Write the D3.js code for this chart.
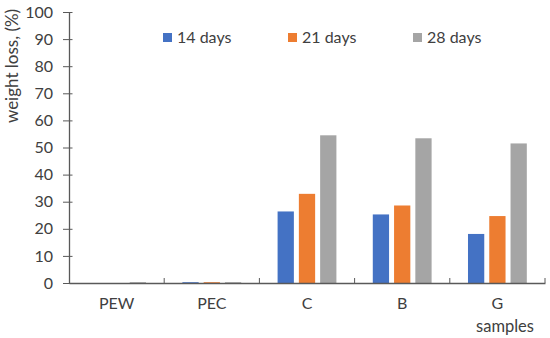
<!DOCTYPE html>
<html>
<head>
<meta charset="utf-8">
<script src="https://cdn.jsdelivr.net/npm/d3@7"></script>
<style>
  body { margin: 0; background: #fff; }
  text { font-family: Lato, "Open Sans", sans-serif; fill: #404040; }
</style>
</head>
<body>
<div id="chart"></div>
<script>
// data
var samples = ["PEW", "PEC", "C", "B", "G"];
var seriesNames = ["14 days", "21 days", "28 days"];
var days14 = [0, 0.3, 26.4, 25.3, 18.1];
var days21 = [0, 0.3, 32.9, 28.6, 24.7];
var days28 = [0.3, 0.3, 54.5, 53.4, 51.5];
var colors = ["#4472C4", "#ED7D31", "#A5A5A5"];
var yTicks = [0, 10, 20, 30, 40, 50, 60, 70, 80, 90, 100];

var width = 550, height = 338;
var margin = { top: 12, right: 5, bottom: 55, left: 69 };
var chartWidth = width - margin.left - margin.right;
var chartHeight = height - margin.top - margin.bottom;

var seriesValues = [days14, days21, days28];
var rows = samples.map(function (s, i) {
  return { name: s, values: seriesNames.map(function (n, j) { return { key: n, value: seriesValues[j][i] }; }) };
});

var svg = d3.select("#chart").append("svg")
    .attr("width", width)
    .attr("height", height);

var chartGroup = svg.append("g")
    .attr("transform", `translate(${margin.left}, ${margin.top})`);

// scales
var x0 = d3.scaleBand()
    .domain(samples)
    .range([0, chartWidth])
    .padding(0);

var x1 = d3.scaleBand()
    .domain(seriesNames)
    .range([0, x0.bandwidth()])
    .paddingInner(0.235)
    .paddingOuter(0.855);

var yScale = d3.scaleLinear()
    .domain([0, 100])
    .range([chartHeight, 0]);

// bars
var groups = chartGroup.selectAll("g.group")
    .data(rows)
    .enter()
    .append("g")
    .attr("class", "group")
    .attr("transform", d => `translate(${x0(d.name)}, 0)`);

groups.selectAll("rect")
    .data(d => d.values)
    .enter()
    .append("rect")
    .attr("x", d => x1(d.key))
    .attr("width", x1.bandwidth())
    .attr("y", d => yScale(d.value))
    .attr("height", d => chartHeight - yScale(d.value))
    .attr("fill", (d, i) => colors[i]);

// y axis with crossing ticks
var yAxis = chartGroup.append("g")
    .call(d3.axisLeft(yScale).tickValues(yTicks).tickSize(6).tickPadding(10));
yAxis.select(".domain").attr("stroke", "#595959").attr("stroke-width", 1.3).attr("d", `M0.5,0V${chartHeight}`);
yAxis.selectAll(".tick line").attr("stroke", "#595959").attr("x1", 3.5);
yAxis.selectAll(".tick text").style("font-size", "16px").attr("fill", "#404040");

// x axis, category ticks pointing up
var xAxis = chartGroup.append("g")
    .attr("transform", `translate(0, ${chartHeight})`)
    .call(d3.axisBottom(x0).tickSize(0).tickPadding(15));
xAxis.select(".domain").attr("stroke", "#595959").attr("stroke-width", 1.3);
xAxis.selectAll(".tick text").style("font-size", "16px").attr("fill", "#404040");
xAxis.selectAll("line.sep")
    .data(samples.slice(1).concat(["end"]))
    .enter()
    .append("line")
    .attr("class", "sep")
    .attr("x1", (d, i) => x0.step() * (i + 1))
    .attr("x2", (d, i) => x0.step() * (i + 1))
    .attr("y1", 0)
    .attr("y2", -5)
    .attr("stroke", "#595959");

// axis titles
svg.append("text")
    .attr("transform", "translate(18, 66) rotate(-90)")
    .attr("text-anchor", "middle")
    .style("font-size", "17px")
    .text("weight loss, (%)");

svg.append("text")
    .attr("x", 505)
    .attr("y", 332)
    .attr("text-anchor", "middle")
    .style("font-size", "16.5px")
    .text("samples");

// legend
var legendX = [163, 288, 413];
var legend = svg.selectAll("g.legend")
    .data(seriesNames)
    .enter()
    .append("g")
    .attr("class", "legend")
    .attr("transform", (d, i) => `translate(${legendX[i]}, 33)`);

legend.append("rect")
    .attr("width", 9)
    .attr("height", 9)
    .attr("fill", (d, i) => colors[i]);

legend.append("text")
    .attr("x", 14)
    .attr("y", 9.5)
    .style("font-size", "16px")
    .text(d => d);
</script>
</body>
</html>
